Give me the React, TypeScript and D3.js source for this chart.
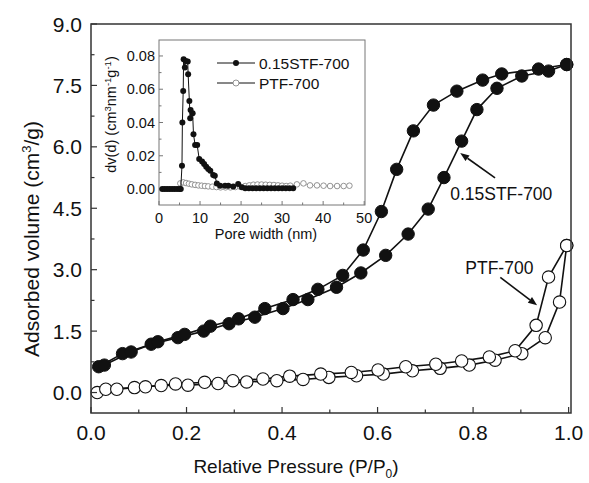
import React from "react";
import * as d3 from "d3";

// Main plot: 0.15STF-700 isotherm
const stfAdsX = [0.016, 0.066, 0.126, 0.182, 0.236, 0.289, 0.343, 0.402, 0.454, 0.514, 0.565, 0.617, 0.664, 0.706, 0.739, 0.776, 0.808, 0.850, 0.902, 0.958, 0.996];
const stfAdsY = [0.63, 0.95, 1.18, 1.34, 1.50, 1.68, 1.84, 2.05, 2.27, 2.57, 2.92, 3.35, 3.87, 4.48, 5.25, 6.14, 6.91, 7.43, 7.73, 7.85, 8.01];
const stfDesX = [0.028, 0.084, 0.140, 0.196, 0.250, 0.309, 0.364, 0.423, 0.475, 0.527, 0.570, 0.608, 0.640, 0.675, 0.717, 0.766, 0.820, 0.860, 0.937, 0.996];
const stfDesY = [0.67, 0.99, 1.24, 1.42, 1.62, 1.80, 2.05, 2.27, 2.52, 2.86, 3.48, 4.42, 5.45, 6.39, 7.02, 7.36, 7.63, 7.78, 7.90, 8.01];

// Main plot: PTF-700 isotherm
const ptfAdsX = [0.013, 0.031, 0.091, 0.147, 0.203, 0.266, 0.326, 0.389, 0.444, 0.498, 0.556, 0.612, 0.673, 0.731, 0.792, 0.846, 0.902, 0.951, 0.981, 0.996];
const ptfAdsY = [0.00, 0.08, 0.12, 0.17, 0.18, 0.22, 0.26, 0.29, 0.32, 0.37, 0.41, 0.45, 0.53, 0.59, 0.67, 0.79, 0.95, 1.34, 2.21, 3.59];
const ptfDesX = [0.054, 0.114, 0.177, 0.238, 0.297, 0.360, 0.416, 0.481, 0.545, 0.601, 0.659, 0.722, 0.776, 0.834, 0.888, 0.932, 0.958, 0.996];
const ptfDesY = [0.08, 0.14, 0.21, 0.25, 0.29, 0.33, 0.40, 0.45, 0.49, 0.55, 0.63, 0.69, 0.77, 0.87, 1.02, 1.64, 2.82, 3.59];

// Inset: pore size distribution
const psdStfX = [0.8, 1.4, 2.0, 2.6, 3.2, 3.8, 4.4, 5.0, 5.3, 5.6, 5.7, 5.9, 6.0, 6.3, 6.5, 7.0, 7.1, 7.4, 7.6, 7.7, 8.2, 8.4, 8.8, 9.3, 9.8, 10.5, 11.0, 11.5, 12.0, 12.5, 13.2, 13.6, 14.1, 14.9, 16.1, 16.9, 18.1, 19.3, 20.2, 21.0, 21.9, 22.8, 23.7, 24.6, 25.5, 26.4, 27.3, 28.2, 29.1, 30.0, 30.9, 31.8, 32.7];
const psdStfY = [0.0, 0.0, 0.0, 0.0, 0.0, 0.0, 0.0, 0.0, 0.0, 0.014, 0.040, 0.059, 0.078, 0.073, 0.077, 0.0766, 0.069, 0.053, 0.0425, 0.0475, 0.0455, 0.033, 0.0265, 0.0265, 0.018, 0.0165, 0.015, 0.0134, 0.012, 0.011, 0.0085, 0.008, 0.0034, 0.002, 0.002, 0.002, 0.0015, 0.003, 0.001, 0.0005, 0.0005, 0.0005, 0.0005, 0.0005, 0.0005, 0.0005, 0.0005, 0.0005, 0.0005, 0.0005, 0.0005, 0.0005, 0.0005];
const psdPtfX = [5.2, 5.9, 6.6, 7.3, 8.0, 8.8, 9.6, 10.4, 11.2, 12.0, 13.0, 14.0, 15.0, 16.2, 17.4, 18.6, 19.8, 21.0, 22.0, 23.0, 24.0, 25.0, 26.0, 27.0, 28.0, 29.0, 30.0, 31.0, 32.0, 33.6, 35.2, 36.8, 38.5, 40.1, 41.7, 43.4, 45.0, 46.4];
const psdPtfY = [0.0034, 0.0040, 0.0036, 0.0032, 0.0028, 0.0025, 0.0022, 0.0020, 0.0018, 0.0016, 0.0014, 0.0012, 0.0010, 0.0010, 0.0010, 0.0012, 0.0014, 0.0018, 0.0022, 0.0026, 0.0027, 0.0027, 0.0026, 0.0025, 0.0024, 0.0022, 0.0020, 0.0018, 0.0020, 0.0028, 0.0034, 0.0022, 0.0022, 0.0020, 0.0018, 0.0018, 0.0018, 0.0020];

const xTicks = [0.0, 0.2, 0.4, 0.6, 0.8, 1.0];
const yTicks = [0.0, 1.5, 3.0, 4.5, 6.0, 7.5, 9.0];
const insetXTicks = [0, 10, 20, 30, 40, 50];
const insetYTicks = [0.0, 0.02, 0.04, 0.06, 0.08];
const seriesNames = ["0.15STF-700", "PTF-700"];

const FONT = "'Liberation Sans', Arial, sans-serif";
const INK = "#111";

export default function App() {
  const W = 589, H = 483;
  const L = 91, R = 571, T = 24, B = 413;
  const x = d3.scaleLinear().domain([0, 1.005]).range([L, R]);
  const y = d3.scaleLinear().domain([-0.5, 9.0]).range([B, T]);

  const iL = 159, iR = 365, iT = 40, iB = 205;
  const ix = d3.scaleLinear().domain([0, 50.2]).range([iL, iR]);
  const iy = d3.scaleLinear().domain([-0.0096, 0.0896]).range([iB, iT]);

  const line = d3.line<[number, number]>().x(d => x(d[0])).y(d => y(d[1]));
  const iline = d3.line<[number, number]>().x(d => ix(d[0])).y(d => iy(d[1]));
  const zip = (a: number[], b: number[]) => a.map((v, i) => [v, b[i]] as [number, number]);

  const stfA = zip(stfAdsX, stfAdsY), stfD = zip(stfDesX, stfDesY);
  const ptfA = zip(ptfAdsX, ptfAdsY), ptfD = zip(ptfDesX, ptfDesY);
  const psdS = zip(psdStfX, psdStfY), psdP = zip(psdPtfX, psdPtfY);

  const xMinor = d3.range(0, 1.0001, 0.1);
  const yMinor = d3.range(0, 9.0001, 0.75);
  const ixMinor = d3.range(0, 50.001, 5);
  const iyMinor = d3.range(0, 0.0801, 0.01);

  const arrow = (x1: number, y1: number, x2: number, y2: number, key: string) => {
    const px1 = x(x1), py1 = y(y1), px2 = x(x2), py2 = y(y2);
    const ang = Math.atan2(py2 - py1, px2 - px1);
    const len = 9, wid = 3.5;
    const bx = px2 - len * Math.cos(ang), by = py2 - len * Math.sin(ang);
    const p = [
      [px2, py2],
      [bx + wid * Math.sin(ang), by - wid * Math.cos(ang)],
      [bx - wid * Math.sin(ang), by + wid * Math.cos(ang)],
    ];
    return (
      <g key={key}>
        <line x1={px1} y1={py1} x2={bx} y2={by} stroke={INK} strokeWidth={1.6} />
        <polygon points={p.map(q => q.join(",")).join(" ")} fill={INK} />
      </g>
    );
  };

  return (
    <svg width={W} height={H} style={{ position: "absolute", left: 0, top: 0, background: "#fff" }} fontFamily={FONT}>
      <rect x={0} y={0} width={W} height={H} fill="#fff" />
      {/* main curves */}
      <g fill="none" stroke={INK} strokeWidth={1.6}>
        <path d={line(stfA) || ""} />
        <path d={line(stfD) || ""} />
        <path d={line(ptfA) || ""} />
        <path d={line(ptfD) || ""} />
      </g>
      <g>
        {[...stfA, ...stfD].map((d, i) => (
          <circle key={"s" + i} cx={x(d[0])} cy={y(d[1])} r={6.2} fill={INK} stroke={INK} strokeWidth={1} />
        ))}
        {[...ptfA, ...ptfD].map((d, i) => (
          <circle key={"p" + i} cx={x(d[0])} cy={y(d[1])} r={6.2} fill="#fff" stroke={INK} strokeWidth={1.1} />
        ))}
      </g>
      {/* frame */}
      <rect x={L} y={T} width={R - L} height={B - T} fill="none" stroke="#333" strokeWidth={1.5} />
      {/* x ticks */}
      {xMinor.map((v, i) => (
        <line key={"xm" + i} x1={x(v)} x2={x(v)} y1={B} y2={B - (i % 2 === 0 ? 6 : 3.5)} stroke="#333" strokeWidth={1.2} />
      ))}
      {yMinor.map((v, i) => (
        <line key={"ym" + i} x1={L} x2={L + (i % 2 === 0 ? 6 : 3.5)} y1={y(v)} y2={y(v)} stroke="#333" strokeWidth={1.2} />
      ))}
      {xTicks.map((v, i) => (
        <text key={"xt" + i} x={x(v)} y={440} fontSize={21} textAnchor="middle" fill={INK}>{v.toFixed(1)}</text>
      ))}
      {yTicks.map((v, i) => (
        <text key={"yt" + i} x={82} y={y(v) + 7.5} fontSize={21} textAnchor="end" fill={INK}>{v.toFixed(1)}</text>
      ))}
      <text x={296} y={473} fontSize={19} textAnchor="middle" fill={INK}>
        Relative Pressure (P/P<tspan dy={5} fontSize={12}>0</tspan><tspan dy={-5}>)</tspan>
      </text>
      <text transform={`translate(39, 239) rotate(-90)`} fontSize={21} textAnchor="middle" fill={INK}>
        Adsorbed volume (cm<tspan dy={-8} fontSize={13}>3</tspan><tspan dy={8}>/g)</tspan>
      </text>

      {/* annotations */}
      {arrow(0.846, 5.24, 0.773, 5.85, "a1")}
      <text x={x(0.859)} y={y(4.85) + 6} fontSize={17.5} textAnchor="middle" fill={INK}>{seriesNames[0]}</text>
      {arrow(0.857, 2.81, 0.934, 2.13, "a2")}
      <text x={x(0.855)} y={y(3.03) + 6} fontSize={17.5} textAnchor="middle" fill={INK}>{seriesNames[1]}</text>

      {/* inset */}
      <rect x={iL} y={iT} width={iR - iL} height={iB - iT} fill="#fff" stroke="#777" strokeWidth={1} />
      {ixMinor.map((v, i) => (
        <line key={"ixm" + i} x1={ix(v)} x2={ix(v)} y1={iB} y2={iB - (i % 2 === 0 ? 4 : 2.5)} stroke="#777" strokeWidth={1} />
      ))}
      {iyMinor.map((v, i) => (
        <line key={"iym" + i} x1={iL} x2={iL + (i % 2 === 0 ? 4 : 2.5)} y1={iy(v)} y2={iy(v)} stroke="#777" strokeWidth={1} />
      ))}
      {insetXTicks.map((v, i) => (
        <text key={"ixt" + i} x={ix(v)} y={223} fontSize={14.5} textAnchor="middle" fill={INK}>{v}</text>
      ))}
      {insetYTicks.map((v, i) => (
        <text key={"iyt" + i} x={155} y={iy(v) + 5} fontSize={14.5} textAnchor="end" fill={INK}>{v.toFixed(2)}</text>
      ))}
      <text x={(iL + iR) / 2 + 4} y={239} fontSize={14.5} textAnchor="middle" fill={INK}>Pore width (nm)</text>
      <text transform={`translate(116, ${(iT + iB) / 2 - 8}) rotate(-90)`} fontSize={14.5} textAnchor="middle" fill={INK}>
        dv(d) (cm<tspan dy={-5} fontSize={9.5}>3</tspan><tspan dy={5}>nm</tspan><tspan dy={-5} fontSize={9.5}>-1</tspan><tspan dy={5}>g</tspan><tspan dy={-5} fontSize={9.5}>-1</tspan><tspan dy={5}>)</tspan>
      </text>
      <path d={iline(psdP) || ""} fill="none" stroke="#999" strokeWidth={0.8} />
      {psdP.map((d, i) => (
        <circle key={"ip" + i} cx={ix(d[0])} cy={iy(d[1])} r={2.8} fill="#fff" stroke="#888" strokeWidth={0.9} />
      ))}
      <path d={iline(psdS) || ""} fill="none" stroke={INK} strokeWidth={1} />
      {psdS.map((d, i) => (
        <circle key={"is" + i} cx={ix(d[0])} cy={iy(d[1])} r={3} fill={INK} />
      ))}
      {/* legend */}
      <line x1={217} x2={255} y1={63} y2={63} stroke={INK} strokeWidth={1} />
      <circle cx={236} cy={63} r={3} fill={INK} />
      <text x={259} y={69} fontSize={15.5} fill={INK}>{seriesNames[0]}</text>
      <line x1={217} x2={255} y1={83} y2={83} stroke={INK} strokeWidth={1} />
      <circle cx={236} cy={83} r={3} fill="#fff" stroke="#888" strokeWidth={0.9} />
      <text x={259} y={89} fontSize={15.5} fill={INK}>{seriesNames[1]}</text>
    </svg>
  );
}
